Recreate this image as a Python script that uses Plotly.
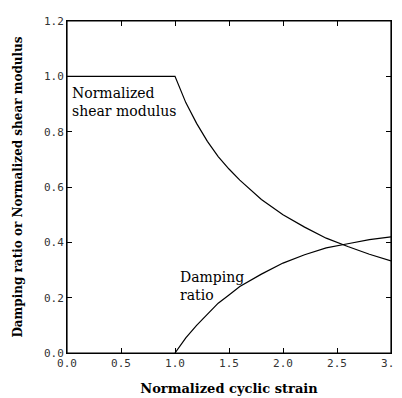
import plotly.graph_objects as go

modulus_x = [0.0, 1.0, 1.1, 1.2, 1.3, 1.4, 1.5, 1.6, 1.8, 2.0, 2.2, 2.4, 2.6, 2.8, 3.0]
modulus_y = [1.0, 1.0, 0.905, 0.83, 0.765, 0.71, 0.665, 0.625, 0.555, 0.50, 0.455, 0.415, 0.385, 0.357, 0.333]

damping_x = [1.0, 1.1, 1.2, 1.3, 1.4, 1.5, 1.6, 1.8, 2.0, 2.2, 2.4, 2.6, 2.8, 3.0]
damping_y = [0.0, 0.055, 0.10, 0.14, 0.18, 0.21, 0.24, 0.285, 0.325, 0.355, 0.38, 0.395, 0.41, 0.42]

x_ticks = [0.0, 0.5, 1.0, 1.5, 2.0, 2.5, 3.0]
y_ticks = [0.0, 0.2, 0.4, 0.6, 0.8, 1.0, 1.2]

x_title = "Normalized cyclic strain"
y_title = "Damping ratio or Normalized shear modulus"
modulus_label = "Normalized<br>shear modulus"
damping_label = "Damping<br>ratio"

fig = go.Figure()
fig.add_trace(go.Scatter(x=modulus_x, y=modulus_y, mode="lines",
                         line=dict(color="black", width=1.2), showlegend=False))
fig.add_trace(go.Scatter(x=damping_x, y=damping_y, mode="lines",
                         line=dict(color="black", width=1.2), showlegend=False))

serif = "DejaVu Serif"
fig.add_annotation(x=0.03, y=0.975, xref="x", yref="y", text=modulus_label,
                   showarrow=False, xanchor="left", yanchor="top", align="left",
                   font=dict(family=serif, size=14, color="black"))
fig.add_annotation(x=1.03, y=0.31, xref="x", yref="y", text=damping_label,
                   showarrow=False, xanchor="left", yanchor="top", align="left",
                   font=dict(family=serif, size=14, color="black"))

# plot frame
fig.add_shape(type="rect", xref="paper", yref="paper", x0=0, y0=0, x1=1, y1=1,
              line=dict(color="black", width=1.2), layer="above")

axis_common = dict(showline=True, linecolor="black", linewidth=1, mirror="ticks",
                   ticks="inside", ticklen=5, tickwidth=1, tickcolor="black", showgrid=False,
                   zeroline=False)

fig.update_xaxes(range=[0, 3.0], tickvals=x_ticks, ticktext=[f"{v:.1f}" for v in x_ticks],
                 tickfont=dict(family="DejaVu Sans Mono", size=11, color="#333"),
                 title=dict(text="<b>" + x_title + "</b>", standoff=14,
                            font=dict(family=serif, size=13, color="black")),
                 **axis_common)
fig.update_yaxes(range=[0, 1.2], tickvals=y_ticks, ticktext=[f"{v:.1f}" for v in y_ticks],
                 tickfont=dict(family="DejaVu Sans Mono", size=11, color="#333"),
                 title=dict(text="<b>" + y_title + "</b>", standoff=18,
                            font=dict(family=serif, size=12, color="black")),
                 **axis_common)

# page body has an 8px default margin; compensate so the plot area lands at the same pixels
fig.update_layout(width=402, height=398, margin=dict(l=59, r=19, t=7, b=53),
                  plot_bgcolor="white", paper_bgcolor="white")

fig.write_html("out.html")
